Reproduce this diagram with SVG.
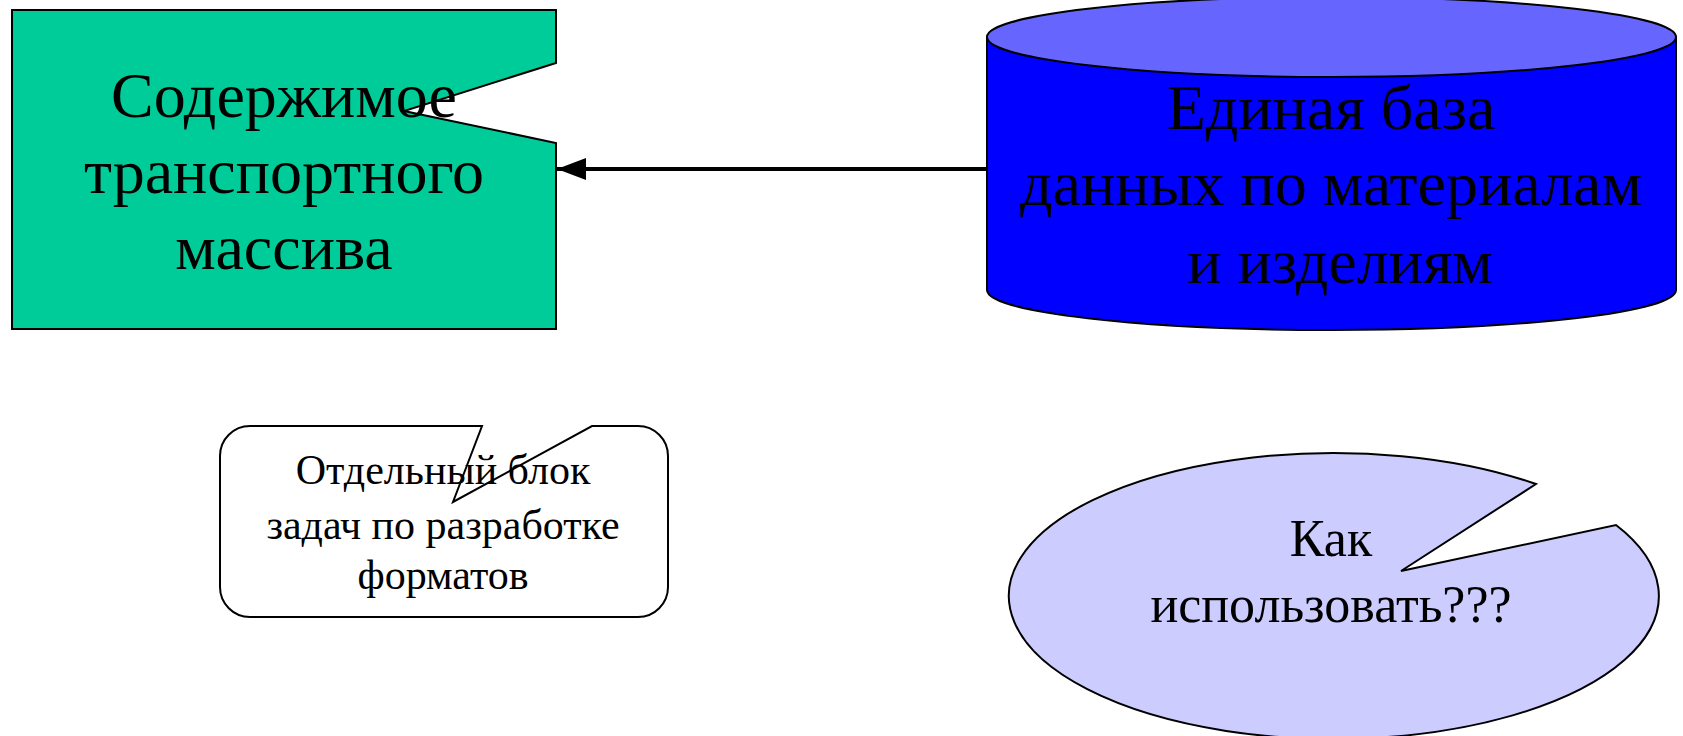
<svg xmlns="http://www.w3.org/2000/svg" width="1683" height="736" viewBox="0 0 1683 736">
<style>
text{font-family:"Liberation Serif","Times New Roman",serif;fill:#000;text-anchor:middle}
.big{font-size:64px}
.mid{font-size:52px}
.small{font-size:42px}
.shape{stroke:#000;stroke-width:2}
</style>
<defs>
<marker id="arr" markerWidth="30" markerHeight="24" refX="29" refY="11" orient="auto" markerUnits="userSpaceOnUse">
<path d="M0,0 L29,11 L0,22 Z" fill="#000"/>
</marker>
</defs>
<g id="connectors">
<line x1="987" y1="169" x2="557" y2="169" stroke="#000" stroke-width="4" marker-end="url(#arr)"/>
</g>
<g id="node-content">
<path class="shape" d="M12,10 H556 V63 L404,111 L556,143 V329 H12 Z" fill="#00CC99"/>
<text class="big" x="284" y="117">Содержимое</text>
<text class="big" x="284" y="193">транспортного</text>
<text class="big" x="284" y="269">массива</text>
</g>
<g id="node-database">
<path class="shape" d="M987,37 L987,290 A344.5,40 0 0 0 1676,290 L1676,37 Z" fill="#0000FF"/>
<ellipse class="shape" cx="1331.5" cy="37" rx="344.5" ry="40" fill="#6666FF"/>
<text class="big" x="1331" y="129">Единая база</text>
<text class="big" x="1331" y="205">данных по материалам</text>
<text class="big" x="1340" y="283">и изделиям</text>
</g>
<g id="node-formats">
<path class="shape" d="M250,426 H482 L453,502 L592,426 H638 A30,30 0 0 1 668,456 V587 A30,30 0 0 1 638,617 H250 A30,30 0 0 1 220,587 V456 A30,30 0 0 1 250,426 Z" fill="#FFFFFF"/>
<text class="small" x="443" y="484">Отдельный блок</text>
<text class="small" x="443" y="539">задач по разработке</text>
<text class="small" x="443" y="589">форматов</text>
</g>
<g id="node-question">
<path class="shape" d="M1536,484 L1401,571 L1616,525 A325,143 0 1 1 1536,484 Z" fill="#CCCCFF"/>
<text class="mid" x="1331" y="556">Как</text>
<text class="mid" x="1331" y="622">использовать???</text>
</g>
</svg>
